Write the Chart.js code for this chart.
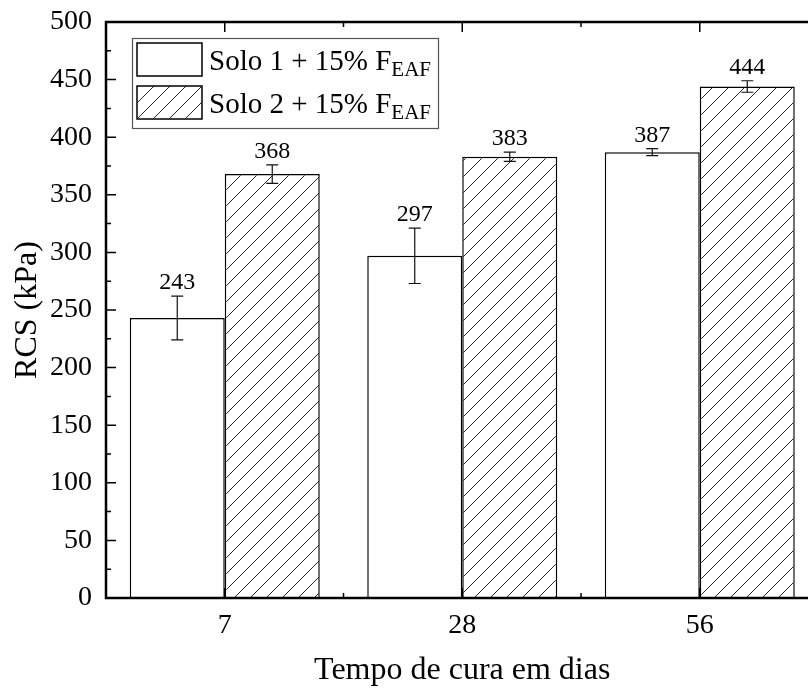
<!DOCTYPE html>
<html>
<head>
<meta charset="utf-8">
<script src="https://cdn.jsdelivr.net/npm/chart.js@4.4.1/dist/chart.umd.min.js"></script>
<style>
  html, body { margin: 0; padding: 0; background: #fff; overflow: hidden; }
  #wrap { width: 830px; height: 692px; }
</style>
</head>
<body>
<div id="wrap"><canvas id="chart" width="830" height="692"></canvas></div>
<script>
// dados
const categories = ['7', '28', '56'];
const solo1 = [243, 297, 387];
const solo1Err = [19, 24, 3];
const solo2 = [368, 383, 444];
const solo2Err = [8, 4, 5];
const seriesNames = ['Solo 1 + 15% F', 'Solo 2 + 15% F'];
const subscript = 'EAF';

const FONT = '"Liberation Serif", "Times New Roman", serif';

// padrao hachurado
function makeHatch() {
    const c = document.createElement('canvas');
    c.width = 16;
    c.height = 16;
    const g = c.getContext('2d');
    g.fillStyle = '#fff';
    g.fillRect(0, 0, 16, 16);
    g.strokeStyle = '#2a2a2a';
    g.lineWidth = 1;
    g.beginPath();
    g.moveTo(-2, 18); g.lineTo(18, -2);
    g.moveTo(-2, 2); g.lineTo(2, -2);
    g.moveTo(14, 18); g.lineTo(18, 14);
    g.stroke();
    return g.createPattern(c, 'repeat');
}

const ctx = document.getElementById('chart').getContext('2d');
const hatch = makeHatch();

// barras de erro e rotulos
const errorPlugin = {
    id: 'errorBars',
    afterDatasetsDraw(chart) {
        const g = chart.ctx;
        const y = chart.scales.y;
        const errs = [solo1Err, solo2Err];
        g.save();
        chart.data.datasets.forEach((ds, di) => {
            const meta = chart.getDatasetMeta(di);
            meta.data.forEach((bar, i) => {
                const v = ds.data[i];
                const e = errs[di][i];
                const x = bar.x;
                const yTop = y.getPixelForValue(v + e);
                const yBot = y.getPixelForValue(v - e);
                g.strokeStyle = '#111';
                g.lineWidth = 1.2;
                g.beginPath();
                g.moveTo(x, yTop); g.lineTo(x, yBot);
                g.moveTo(x - 6, yTop); g.lineTo(x + 6, yTop);
                g.moveTo(x - 6, yBot); g.lineTo(x + 6, yBot);
                g.stroke();
                g.fillStyle = '#000';
                g.font = '24px ' + FONT;
                g.textAlign = 'center';
                g.textBaseline = 'alphabetic';
                g.fillText(String(v), x, yTop - 7);
            });
        });
        g.restore();
    }
};

// moldura, ticks e legenda
const framePlugin = {
    id: 'frame',
    afterDraw(chart) {
        const g = chart.ctx;
        const a = chart.chartArea;
        const y = chart.scales.y;
        const x = chart.scales.x;
        g.save();
        g.strokeStyle = '#000';
        g.lineWidth = 1.5;
        g.beginPath();
        for (let v = 0; v <= 500; v += 25) {
            const py = y.getPixelForValue(v);
            const len = v % 50 === 0 ? 10 : 5;
            g.moveTo(a.left, py); g.lineTo(a.left + len, py);
            g.moveTo(a.right, py); g.lineTo(a.right - len, py);
        }
        const n = categories.length;
        for (let i = 0; i < n; i++) {
            const px = x.getPixelForTick(i);
            g.moveTo(px, a.top); g.lineTo(px, a.top + 10);
            g.moveTo(px, a.bottom); g.lineTo(px, a.bottom - 10);
            if (i < n - 1) {
                const mx = (px + x.getPixelForTick(i + 1)) / 2;
                g.moveTo(mx, a.top); g.lineTo(mx, a.top + 5);
                g.moveTo(mx, a.bottom); g.lineTo(mx, a.bottom - 5);
            }
        }
        g.stroke();

        g.lineWidth = 2.5;
        g.strokeRect(a.left, a.top, a.right - a.left, a.bottom - a.top);

        // legenda
        const lx = 132, ly = 38, lw = 306, lh = 90;
        g.fillStyle = '#fff';
        g.fillRect(lx, ly, lw, lh);
        g.strokeStyle = '#555';
        g.lineWidth = 1.2;
        g.strokeRect(lx + 0.5, ly + 0.5, lw, lh);

        const fills = ['#fff', hatch];
        const rows = [43, 86];
        rows.forEach((ry, k) => {
            g.fillStyle = fills[k];
            g.fillRect(137, ry, 65, 33);
            g.strokeStyle = '#000';
            g.lineWidth = 1.5;
            g.strokeRect(137, ry, 65, 33);
            g.fillStyle = '#000';
            g.textAlign = 'left';
            g.textBaseline = 'alphabetic';
            g.font = '29px ' + FONT;
            const base = ry + 27;
            g.fillText(seriesNames[k], 209, base);
            const w = g.measureText(seriesNames[k]).width;
            g.font = '21px ' + FONT;
            g.fillText(subscript, 209 + w, base + 6);
        });
        g.restore();
    }
};

new Chart(ctx, {
    type: 'bar',
    data: {
        labels: categories,
        datasets: [
            {
                label: seriesNames[0],
                data: solo1,
                backgroundColor: '#fff',
                borderColor: '#000',
                borderWidth: 1.5,
                categoryPercentage: 0.8,
                barPercentage: 1.0
            },
            {
                label: seriesNames[1],
                data: solo2,
                backgroundColor: hatch,
                borderColor: '#000',
                borderWidth: 1.5,
                categoryPercentage: 0.8,
                barPercentage: 1.0
            }
        ]
    },
    options: {
        responsive: false,
        animation: false,
        layout: { padding: { top: 22, right: 11.5, left: 0, bottom: 0 } },
        plugins: {
            legend: { display: false },
            tooltip: { enabled: false }
        },
        scales: {
            x: {
                grid: { display: false, drawTicks: false },
                border: { display: false },
                ticks: { color: '#000', font: { family: FONT, size: 28 }, padding: 11 },
                title: {
                    display: true,
                    text: 'Tempo de cura em dias',
                    color: '#000',
                    font: { family: FONT, size: 32 },
                    padding: { top: 0, bottom: 2 }
                },
                afterFit(scale) {
                    scale.height = 94;
                    scale.paddingLeft = 0;
                    scale.paddingRight = 0;
                }
            },
            y: {
                min: 0,
                max: 500,
                grid: { display: false, drawTicks: false },
                border: { display: false },
                ticks: { stepSize: 50, color: '#000', font: { family: FONT, size: 28 }, padding: 14 },
                title: {
                    display: true,
                    text: 'RCS (kPa)',
                    color: '#000',
                    font: { family: FONT, size: 32 },
                    padding: { top: 8, bottom: 0 }
                },
                afterFit(scale) {
                    scale.width = 106;
                    scale.paddingTop = 0;
                    scale.paddingBottom = 0;
                }
            }
        }
    },
    plugins: [errorPlugin, framePlugin]
});
</script>
</body>
</html>
